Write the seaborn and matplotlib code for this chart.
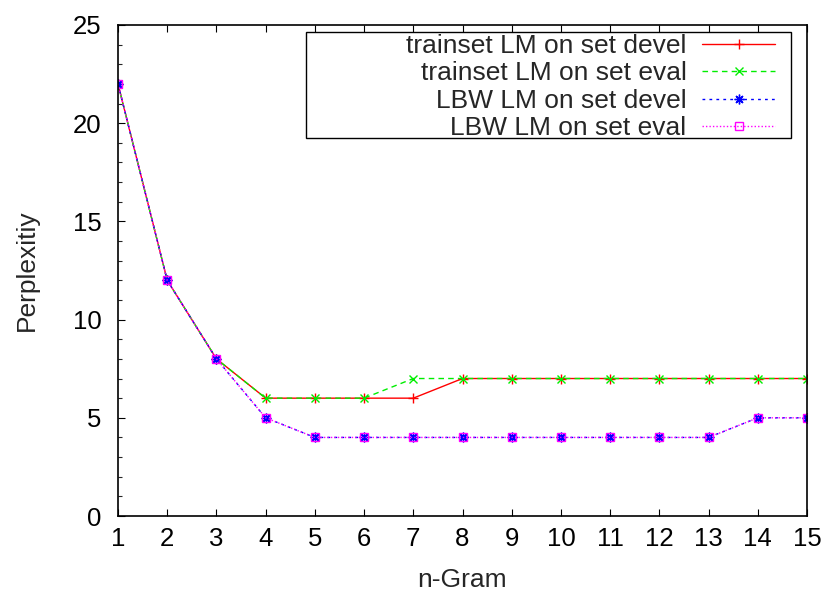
import matplotlib
matplotlib.use("Agg")
import matplotlib.pyplot as plt
from matplotlib.ticker import MultipleLocator
from matplotlib.patches import Rectangle
import seaborn as sns
import pandas as pd

ngram = list(range(1, 16))
train_devel = [22, 12, 8, 6, 6, 6, 6, 7, 7, 7, 7, 7, 7, 7, 7]
train_eval = [22, 12, 8, 6, 6, 6, 7, 7, 7, 7, 7, 7, 7, 7, 7]
lbw_devel = [22, 12, 8, 5, 4, 4, 4, 4, 4, 4, 4, 4, 4, 5, 5]
lbw_eval = [22, 12, 8, 5, 4, 4, 4, 4, 4, 4, 4, 4, 4, 5, 5]
labels = ["trainset LM on set devel", "trainset LM on set eval",
          "LBW LM on set devel", "LBW LM on set eval"]

sns.set_theme(style="white")
plt.rcParams['font.family'] = ['Liberation Sans', 'DejaVu Sans']

W, H = 822, 592
fig = plt.figure(figsize=(W/100, H/100), dpi=100)
ax = fig.add_axes([118/W, 1-516/H, (807-118)/W, (516-25)/H])

styles = [
    dict(color="#ff0000", linestyle="-", marker="+", markersize=7, mfc="none"),
    dict(color="#00ee00", linestyle=(0, (4, 3)), marker="x", markersize=6, mfc="none"),
    dict(color="#0000ff", linestyle=(0, (2, 3)), marker=(8, 2, 0), markersize=7, mfc="none"),
    dict(color="#ff00ff", linestyle=(0, (1, 1.5)), marker="s", markersize=6, mfc="none"),
]
series = [train_devel, train_eval, lbw_devel, lbw_eval]
for vals, lab, st in zip(series, labels, styles):
    df = pd.DataFrame({"n": ngram, "p": vals})
    sns.lineplot(data=df, x="n", y="p", ax=ax, label=lab, linewidth=1.0,
                 markeredgewidth=1.0, markeredgecolor=st["color"], **st)

ax.set_xlim(1, 15)
ax.set_ylim(0, 25)
ax.set_xticks(ngram)
ax.yaxis.set_major_locator(MultipleLocator(5))
ax.yaxis.set_minor_locator(MultipleLocator(1))
ax.tick_params(axis="x", which="major", direction="in", length=5, width=0.8,
               top=True, bottom=True, labelsize=18.5, pad=8, colors="black")
ax.tick_params(axis="y", which="major", direction="in", length=5, width=0.8,
               left=True, right=False, labelsize=18.5, pad=12, colors="black")
ax.tick_params(axis="y", which="minor", direction="in", length=3, width=0.8,
               left=True, right=False)
for s in ax.spines.values():
    s.set_color("black")
    s.set_linewidth(1.2)

ax.set_xlabel("n-Gram", fontsize=19, labelpad=12)
ax.set_ylabel("Perplexitiy", fontsize=19, labelpad=24)

# legend frame box
fig.patches.append(Rectangle((306/W, 1-138/H), (791-306)/W, (138-32)/H,
                             transform=fig.transFigure, fill=True,
                             facecolor="white", edgecolor="black",
                             linewidth=1.0, zorder=5))
leg = ax.legend(loc="upper right", bbox_to_anchor=(775/W, 1-34/H),
                bbox_transform=fig.transFigure, borderaxespad=0,
                markerfirst=False, fontsize=19, handlelength=2.75,
                labelspacing=0.13, frameon=False, borderpad=0.0,
                handletextpad=0.6)
leg.set_zorder(6)
leg.remove()
fig.legends.append(leg)
leg.set_figure(fig)

fig.savefig("out.png", dpi=100)
